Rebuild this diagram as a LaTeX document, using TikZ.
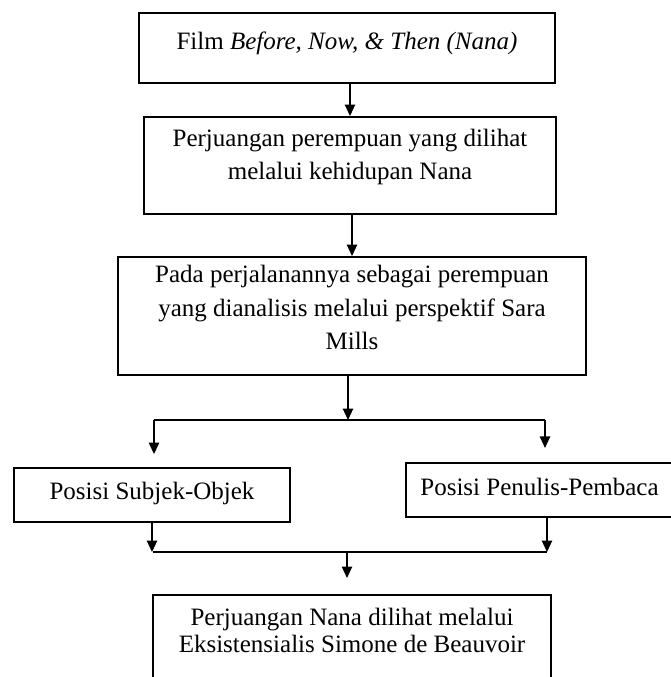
\documentclass[tikz,border=0pt]{standalone}
\usepackage{fontspec}
\setmainfont{Liberation Serif}
\usepackage{tikz}
\usetikzlibrary{arrows.meta,positioning}

\begin{document}
\begin{tikzpicture}[x=0.48pt, y=-0.48pt,
		box/.style={draw, line width=1pt, inner xsep=0pt, inner ysep=0pt, align=center,
			font=\fontsize{12}{16.1}\selectfont},
		arr/.style={line width=0.6pt, -{Triangle[length=5.5pt, width=5pt]}}]
			\clip (0,0) rectangle (671,677);
			\node[box, minimum width=199.7pt, text height=17.3pt, text depth=16.3pt] (film) at (347,48)
				{Film \textit{Before, Now, \& Then (Nana)}};
			\node[box, minimum width=197.8pt, text height=30.2pt, text depth=16.3pt] (juang) at (350,165.5)
				{Perjuangan perempuan yang dilihat\\melalui kehidupan Nana};
			\node[box, minimum width=224.6pt, text height=44.6pt, text depth=12pt] (pada) at (352,316)
				{Pada perjalanannya sebagai perempuan\\yang dianalisis melalui perspektif Sara\\Mills};
			\node[box, minimum width=132.5pt, text height=14.9pt, text depth=11pt] (subjek) at (152,495)
				{Posisi Subjek-Objek};
			\node[box, minimum width=128.2pt, text height=15.4pt, text depth=10.6pt] (penulis) at (539.5,490)
				{Posisi Penulis-Pembaca};
			\node[box, anchor=north, minimum width=191pt, text height=27.8pt, text depth=23pt,
				font=\fontsize{12}{13.4}\selectfont] (eksis) at (352,594)
				{Perjuangan Nana dilihat melalui\\Eksistensialis Simone de Beauvoir};
			% split and join lines
			\coordinate (splitL) at (154,420);
			\coordinate (splitM) at (348,420);
			\coordinate (splitR) at (545,420);
			\coordinate (joinL) at (153,552);
			\coordinate (joinM) at (347,552);
			\coordinate (joinR) at (547,552);
			\draw[arr] (film.south -| juang.north) -- (juang.north);
			\draw[arr] (juang.south -| pada.north) -- (pada.north);
			\draw[arr] (pada.south -| splitM) -- (splitM);
			\draw[line width=0.6pt] (splitL) -- (splitR);
			\draw[arr, shorten >=6.2pt] (splitL) -- (splitL |- subjek.north);
			\draw[arr, shorten >=6.7pt] (splitR) -- (splitR |- penulis.north);
			\draw[arr] (subjek.south) -- (subjek.south |- joinL);
			\draw[arr] (penulis.south -| joinR) -- (joinR);
			\draw[line width=0.6pt] (joinL) -- (joinR);
			\draw[arr, shorten >=7.7pt] (joinM) -- (joinM |- eksis.north);
		\end{tikzpicture}
\end{document}
